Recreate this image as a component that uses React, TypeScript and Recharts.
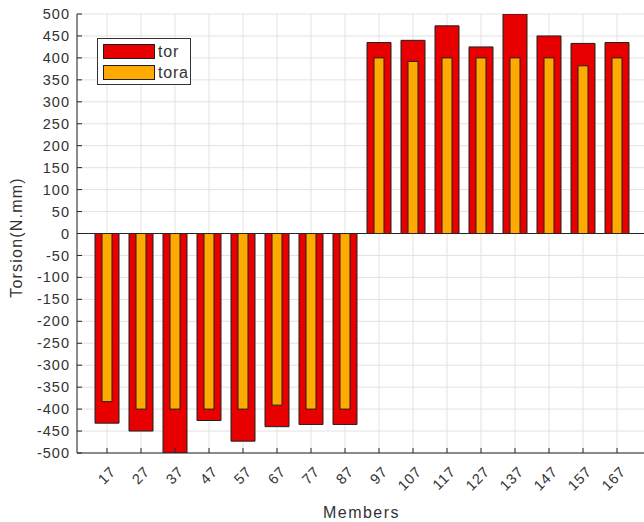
import React from 'react';
import {
  BarChart,
  Bar,
  XAxis,
  YAxis,
  CartesianGrid,
  Legend,
  ReferenceLine,
  Label,
} from 'recharts';

const members = ['17', '27', '37', '47', '57', '67', '77', '87', '97', '107', '117', '127', '137', '147', '157', '167'];
const tor = [-432, -450, -500, -426, -473, -440, -435, -435, 435, 440, 473, 425, 500, 450, 433, 435];
const tora = [-383, -400, -400, -400, -400, -391, -400, -400, 400, 392, 400, 400, 400, 400, 382, 400];
const yTicks = [-500, -450, -400, -350, -300, -250, -200, -150, -100, -50, 0, 50, 100, 150, 200, 250, 300, 350, 400, 450, 500];

const data = members.map((m, i) => ({ name: m, tor: tor[i], tora: tora[i] }));

const AXIS = '#262626';
const TEXT = '#333333';
const FONT = '"Liberation Sans", Arial, Helvetica, sans-serif';
const RED = '#e80000';
const ORANGE = '#ffaa00';
const EDGE = '#1f1f1f';

const LeftTick = (props: any) => {
  const { x, y, payload } = props;
  return (
    <g>
      <line x1={x} x2={x + 5} y1={y} y2={y} stroke={AXIS} strokeWidth={1} />
      <text
        x={x - 7}
        y={y}
        dy="0.35em"
        textAnchor="end"
        fontSize={14.5}
        letterSpacing={1}
        fontFamily={FONT}
        fill={TEXT}
      >
        {payload.value}
      </text>
    </g>
  );
};

const RightTick = (props: any) => {
  const { x, y } = props;
  return <line x1={x - 5} x2={x} y1={y} y2={y} stroke={AXIS} strokeWidth={1} />;
};

const BottomTick = (props: any) => {
  const { x, y, payload } = props;
  return (
    <g>
      <line x1={x} x2={x} y1={y} y2={y - 5} stroke={AXIS} strokeWidth={1} />
      <g transform={`translate(${x + 6},${y + 16}) rotate(-45)`}>
        <text
          x={0}
          y={0}
          dy="0.35em"
          textAnchor="end"
          fontSize={14.5}
          letterSpacing={0.8}
          fontFamily={FONT}
          fill={TEXT}
        >
          {payload.value}
        </text>
      </g>
    </g>
  );
};

const TopTick = (props: any) => {
  const { x, y } = props;
  return <line x1={x} x2={x} y1={y} y2={y + 5} stroke={AXIS} strokeWidth={1} />;
};

const YLabel = (props: any) => {
  const vb = props.viewBox || { x: 0, y: 0, width: 0, height: 0 };
  const cx = vb.x + 16;
  const cy = vb.y + vb.height / 2 + 4;
  return (
    <text
      x={cx}
      y={cy}
      transform={`rotate(-90,${cx},${cy})`}
      textAnchor="middle"
      dominantBaseline="central"
      fontSize={16}
      letterSpacing={1.2}
      fontFamily={FONT}
      fill={TEXT}
    >
      Torsion(N.mm)
    </text>
  );
};

const XLabel = (props: any) => {
  const vb = props.viewBox || { x: 0, y: 0, width: 0, height: 0 };
  const cx = vb.x + vb.width / 2;
  const cy = vb.y + 59;
  return (
    <text
      x={cx}
      y={cy}
      textAnchor="middle"
      dominantBaseline="central"
      fontSize={16}
      letterSpacing={1.5}
      fontFamily={FONT}
      fill={TEXT}
    >
      Members
    </text>
  );
};

const LegendBox = (props: any) => {
  const { payload } = props;
  return (
    <div
      style={{
        boxSizing: 'border-box',
        width: 94,
        height: 47,
        border: '1px solid #333',
        background: '#fff',
        padding: '5px 0 0 5px',
        fontFamily: FONT,
      }}
    >
      {(payload || []).map((entry: any, i: number) => (
        <div
          key={entry.value}
          style={{ display: 'flex', alignItems: 'center', height: 15, marginBottom: i === 0 ? 6 : 0 }}
        >
          <div
            style={{
              boxSizing: 'border-box',
              width: 52,
              height: 15,
              background: entry.color,
              border: `1px solid ${EDGE}`,
            }}
          />
          <span style={{ marginLeft: 3, fontSize: 16, letterSpacing: 0.8, color: TEXT, lineHeight: '15px' }}>
            {entry.value}
          </span>
        </div>
      ))}
    </div>
  );
};

export default function App() {
  return (
    <div
      style={{
        position: 'fixed',
        left: 0,
        top: 0,
        width: 644,
        height: 522,
        overflow: 'hidden',
        background: '#fff',
      }}
    >
      <BarChart
        width={660}
        height={522}
        data={data}
        margin={{ top: 14, right: 14, bottom: 0, left: 0 }}
        style={{ fontFamily: FONT }}
      >
        <CartesianGrid
          xAxisId="b"
          yAxisId="l"
          stroke="#e2e2e2"
          strokeWidth={1}
          horizontal
          vertical
        />
        <XAxis
          xAxisId="b"
          dataKey="name"
          type="category"
          orientation="bottom"
          height={69}
          padding={{ left: 13, right: 12 }}
          interval={0}
          tickSize={0}
          tickMargin={0}
          tickLine={false}
          axisLine={{ stroke: AXIS, strokeWidth: 1 }}
          tick={<BottomTick />}
        >
          <Label content={<XLabel />} />
        </XAxis>
        <XAxis
          xAxisId="t"
          dataKey="name"
          type="category"
          orientation="top"
          height={0}
          padding={{ left: 13, right: 12 }}
          interval={0}
          tickSize={0}
          tickMargin={0}
          tickLine={false}
          axisLine={{ stroke: AXIS, strokeWidth: 1 }}
          tick={<TopTick />}
        />
        <YAxis
          yAxisId="l"
          orientation="left"
          width={77}
          type="number"
          domain={[-500, 500]}
          ticks={yTicks}
          interval={0}
          allowDataOverflow
          tickSize={0}
          tickMargin={0}
          tickLine={false}
          axisLine={{ stroke: AXIS, strokeWidth: 1 }}
          tick={<LeftTick />}
        >
          <Label content={<YLabel />} />
        </YAxis>
        <YAxis
          yAxisId="r"
          orientation="right"
          width={0}
          type="number"
          domain={[-500, 500]}
          ticks={yTicks}
          interval={0}
          allowDataOverflow
          tickSize={0}
          tickMargin={0}
          tickLine={false}
          axisLine={{ stroke: AXIS, strokeWidth: 1 }}
          tick={<RightTick />}
        />
        <Legend
          layout="horizontal"
          verticalAlign="middle"
          align="center"
          wrapperStyle={{ top: 38, left: 97, width: 94, height: 47 }}
          content={<LegendBox />}
        />
        <Bar
          xAxisId="b"
          yAxisId="l"
          dataKey="tor"
          name="tor"
          fill={RED}
          stroke={EDGE}
          strokeWidth={1}
          barSize={24}
          isAnimationActive={false}
        />
        <Bar
          xAxisId="t"
          yAxisId="l"
          dataKey="tora"
          name="tora"
          fill={ORANGE}
          stroke={EDGE}
          strokeWidth={1}
          barSize={10}
          isAnimationActive={false}
        />
        <ReferenceLine xAxisId="b" yAxisId="l" y={0} stroke={AXIS} strokeWidth={1} />
      </BarChart>
    </div>
  );
}
